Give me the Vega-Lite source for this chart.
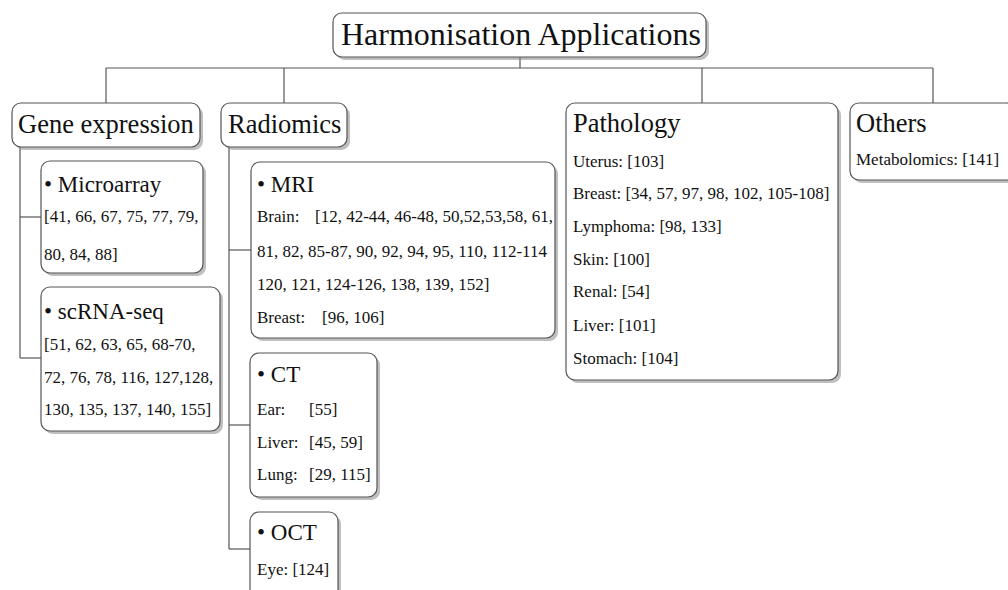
{
  "$schema": "https://vega.github.io/schema/vega-lite/v6.json",
  "width": 1008,
  "height": 590,
  "padding": 0,
  "autosize": {"type": "none"},
  "background": "white",
  "config": {"view": {"stroke": null}},
  "datasets": {
    "lines": [
      {"x1": 106, "y1": 68, "x2": 933, "y2": 68},
      {"x1": 520, "y1": 57, "x2": 520, "y2": 68},
      {"x1": 106, "y1": 68, "x2": 106, "y2": 103},
      {"x1": 284, "y1": 68, "x2": 284, "y2": 103},
      {"x1": 702, "y1": 68, "x2": 702, "y2": 103},
      {"x1": 933, "y1": 68, "x2": 933, "y2": 103},
      {"x1": 20, "y1": 147, "x2": 20, "y2": 358},
      {"x1": 20, "y1": 217, "x2": 41, "y2": 217},
      {"x1": 20, "y1": 358, "x2": 41, "y2": 358},
      {"x1": 229, "y1": 147, "x2": 229, "y2": 549},
      {"x1": 229, "y1": 250, "x2": 251, "y2": 250},
      {"x1": 229, "y1": 425, "x2": 250, "y2": 425},
      {"x1": 229, "y1": 549, "x2": 250, "y2": 549}
    ],
    "boxes": [
      {"name": "root", "x1": 333, "x2": 706, "y1": 13, "y2": 57},
      {"name": "Gene expression", "x1": 12, "x2": 200, "y1": 103, "y2": 147},
      {"name": "Radiomics", "x1": 221, "x2": 347, "y1": 103, "y2": 147},
      {"name": "Pathology", "x1": 566, "x2": 838, "y1": 103, "y2": 380},
      {"name": "Others", "x1": 850, "x2": 1016, "y1": 103, "y2": 180},
      {"name": "Microarray", "x1": 41, "x2": 203, "y1": 161, "y2": 273},
      {"name": "scRNA-seq", "x1": 41, "x2": 220, "y1": 287, "y2": 431},
      {"name": "MRI", "x1": 251, "x2": 555, "y1": 162, "y2": 338},
      {"name": "CT", "x1": 250, "x2": 377, "y1": 353, "y2": 497},
      {"name": "OCT", "x1": 250, "x2": 338, "y1": 512, "y2": 598}
    ],
    "labels": [
      {"kind": "root", "x": 341, "y": 35, "text": "Harmonisation Applications"},
      {"kind": "category", "x": 18, "y": 125, "text": "Gene expression"},
      {"kind": "category", "x": 228, "y": 125, "text": "Radiomics"},
      {"kind": "category", "x": 573, "y": 124, "text": "Pathology"},
      {"kind": "category", "x": 856, "y": 124, "text": "Others"},
      {"kind": "sub", "x": 44, "y": 185, "text": "• Microarray"},
      {"kind": "item", "x": 44, "y": 217, "text": "[41, 66, 67, 75, 77, 79,"},
      {"kind": "item", "x": 44, "y": 255, "text": "80, 84, 88]"},
      {"kind": "sub", "x": 44, "y": 312, "text": "• scRNA-seq"},
      {"kind": "item", "x": 44, "y": 345, "text": "[51, 62, 63, 65, 68-70,"},
      {"kind": "item", "x": 44, "y": 378, "text": "72, 76, 78, 116, 127,128,"},
      {"kind": "item", "x": 44, "y": 410, "text": "130, 135, 137, 140, 155]"},
      {"kind": "sub", "x": 257, "y": 185, "text": "• MRI"},
      {"kind": "item", "x": 257, "y": 217, "text": "Brain:"},
      {"kind": "item", "x": 315, "y": 217, "text": "[12, 42-44, 46-48, 50,52,53,58, 61,"},
      {"kind": "item", "x": 257, "y": 252, "text": "81, 82, 85-87, 90, 92, 94, 95, 110, 112-114"},
      {"kind": "item", "x": 257, "y": 285, "text": "120, 121, 124-126, 138, 139, 152]"},
      {"kind": "item", "x": 257, "y": 318, "text": "Breast:"},
      {"kind": "item", "x": 322, "y": 318, "text": "[96, 106]"},
      {"kind": "sub", "x": 257, "y": 375, "text": "• CT"},
      {"kind": "item", "x": 257, "y": 410, "text": "Ear:"},
      {"kind": "item", "x": 309, "y": 410, "text": "[55]"},
      {"kind": "item", "x": 257, "y": 443, "text": "Liver:"},
      {"kind": "item", "x": 309, "y": 443, "text": "[45, 59]"},
      {"kind": "item", "x": 257, "y": 475, "text": "Lung:"},
      {"kind": "item", "x": 309, "y": 475, "text": "[29, 115]"},
      {"kind": "sub", "x": 257, "y": 533, "text": "• OCT"},
      {"kind": "item", "x": 257, "y": 570, "text": "Eye:  [124]"},
      {"kind": "item", "x": 573, "y": 162, "text": "Uterus:  [103]"},
      {"kind": "item", "x": 573, "y": 194, "text": "Breast:  [34, 57, 97, 98, 102, 105-108]"},
      {"kind": "item", "x": 573, "y": 227, "text": "Lymphoma:  [98, 133]"},
      {"kind": "item", "x": 573, "y": 260, "text": "Skin:  [100]"},
      {"kind": "item", "x": 573, "y": 292, "text": "Renal:  [54]"},
      {"kind": "item", "x": 573, "y": 326, "text": "Liver:  [101]"},
      {"kind": "item", "x": 573, "y": 359, "text": "Stomach:  [104]"},
      {"kind": "item", "x": 856, "y": 160, "text": "Metabolomics:  [141]"}
    ]
  },
  "layer": [
    {
      "data": {"name": "lines"},
      "mark": {"type": "rule", "color": "#555555", "strokeWidth": 1.2},
      "encoding": {
        "x": {"field": "x1", "type": "quantitative", "axis": null, "scale": {"domain": [0, 1008], "nice": false, "zero": false}},
        "x2": {"field": "x2"},
        "y": {"field": "y1", "type": "quantitative", "axis": null, "scale": {"domain": [0, 590], "nice": false, "zero": false, "reverse": true}},
        "y2": {"field": "y2"}
      }
    },
    {
      "data": {"name": "boxes"},
      "mark": {"type": "rect", "fill": "#8a8a8a", "opacity": 0.55, "cornerRadius": 9, "xOffset": 3, "x2Offset": 3, "yOffset": 3, "y2Offset": 3},
      "encoding": {
        "x": {"field": "x1", "type": "quantitative"},
        "x2": {"field": "x2"},
        "y": {"field": "y1", "type": "quantitative"},
        "y2": {"field": "y2"}
      }
    },
    {
      "data": {"name": "boxes"},
      "mark": {"type": "rect", "fill": "white", "stroke": "#555555", "strokeWidth": 1.2, "cornerRadius": 9},
      "encoding": {
        "x": {"field": "x1", "type": "quantitative"},
        "x2": {"field": "x2"},
        "y": {"field": "y1", "type": "quantitative"},
        "y2": {"field": "y2"}
      }
    },
    {
      "data": {"name": "labels"},
      "mark": {"type": "text", "font": "Liberation Serif", "align": "left", "baseline": "middle", "color": "#111111"},
      "encoding": {
        "x": {"field": "x", "type": "quantitative"},
        "y": {"field": "y", "type": "quantitative"},
        "text": {"field": "text"},
        "size": {"field": "kind", "type": "ordinal", "legend": null, "scale": {"type": "ordinal", "domain": ["root", "category", "sub", "item"], "range": [32, 26.5, 23, 17]}}
      }
    }
  ]
}
